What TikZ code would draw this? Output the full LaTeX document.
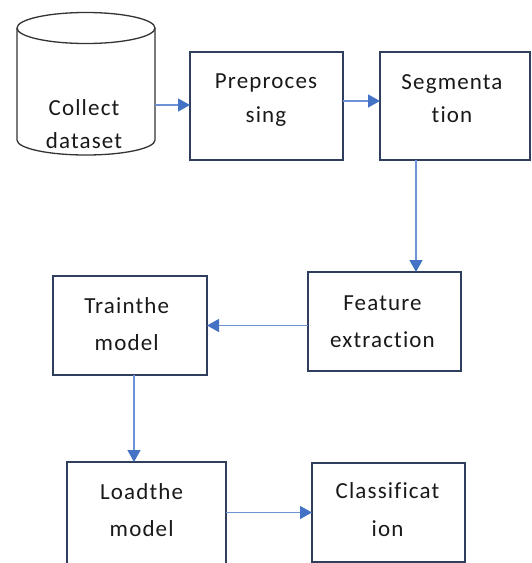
\documentclass[tikz,border=0pt]{standalone}
\usepackage{fontspec}
\setmainfont[LetterSpace=5,Ligatures=NoCommon]{Carlito}
\usetikzlibrary{arrows.meta}
\definecolor{boxline}{HTML}{2F3E5C}
\definecolor{flowline}{HTML}{6E92D6}
\definecolor{flowtip}{HTML}{4472C4}
\begin{document}
\begin{tikzpicture}[x=1pt,y=-1pt,
  stepbox/.style={draw=boxline, line width=1.3pt, inner sep=0pt, outer sep=0pt},
  txt/.style={align=center, anchor=base, inner sep=0pt, text=black!90},
  flow/.style={draw=flowline, line width=1.3pt,
    -{Triangle[length=12pt,width=13pt,color=flowtip,fill=flowtip]}}]
\useasboundingbox (0,0) rectangle (531,563);
\clip (0,0) rectangle (531,563);

% database cylinder
\draw[draw=black!80, line width=1.3pt]
  (17,28) -- (17,140) arc[start angle=180, end angle=360, x radius=69pt, y radius=15pt] -- (155,28);
\draw[draw=black!80, line width=1.3pt] (86,28) ellipse[x radius=69pt, y radius=15.5pt];
\node[txt, font=\fontsize{23}{33}\selectfont] (db) at (84,148) {Collect\\dataset};
\coordinate (dbout) at (155,105);

% process boxes
\node[stepbox, minimum width=153, minimum height=108] (pre)   at (266.5,106) {};
\node[stepbox, minimum width=150, minimum height=108] (seg)   at (455,106) {};
\node[stepbox, minimum width=153, minimum height=99]  (feat)  at (384.5,321.5) {};
\node[stepbox, minimum width=154, minimum height=99]  (train) at (130,325.5) {};
\node[stepbox, minimum width=159, minimum height=108] (load)  at (146.5,516) {};
\node[stepbox, minimum width=153, minimum height=99]  (cls)   at (388.5,512.5) {};

% box labels (anchored on the baseline of the last line)
\node[txt, font=\fontsize{23}{34}\selectfont] (pre-t)   at (266,122)   {Preproces\\sing};
\node[txt, font=\fontsize{23}{33}\selectfont] (seg-t)   at (452,122)   {Segmenta\\tion};
\node[txt, font=\fontsize{23}{37}\selectfont] (feat-t)  at (382.5,347) {Feature\\extraction};
\node[txt, font=\fontsize{23}{37}\selectfont] (train-t) at (126.7,350) {Trainthe\\model};
\node[txt, font=\fontsize{23}{37}\selectfont] (load-t)  at (141.7,536) {Loadthe\\model};
\node[txt, font=\fontsize{23}{38}\selectfont] (cls-t)   at (387.5,536) {Classificat\\ion};

% connectors
\draw[flow] (dbout) -- (pre.west |- dbout);
\draw[flow] ([yshift=5pt]pre.east) -- ([yshift=5pt]seg.west);
\draw[flow] ([xshift=-39pt]seg.south) -- ([xshift=-39pt]seg.south |- feat.north);
\draw[flow] (feat.west |- train.east) -- (train.east);
\draw[flow] ([xshift=4pt]train.south) -- ([xshift=4pt]train.south |- load.north);
\draw[flow] (load.east |- cls.west) -- (cls.west);
\end{tikzpicture}
\end{document}
